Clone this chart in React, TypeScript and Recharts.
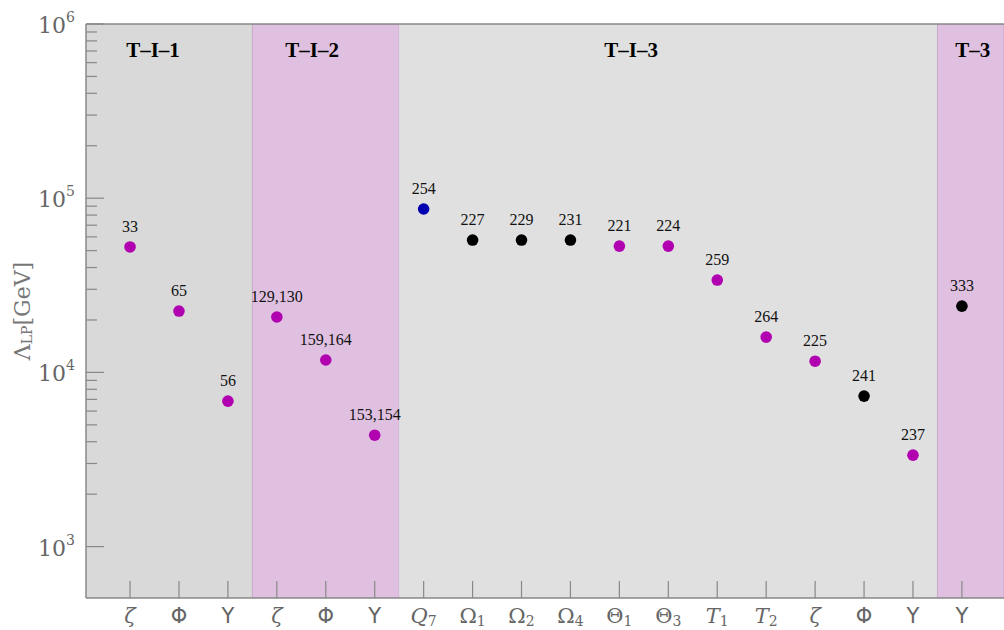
import React from 'react';
import { ComposedChart, Scatter, XAxis, YAxis, ReferenceArea, ReferenceLine, ReferenceDot } from 'recharts';

// Category tick labels (base, subscript, style)
const tickBase = ['ζ', 'Φ', 'Υ', 'ζ', 'Φ', 'Υ', 'Q', 'Ω', 'Ω', 'Ω', 'Θ', 'Θ', 'T', 'T', 'ζ', 'Φ', 'Υ', 'Υ'];
const tickSub = ['', '', '', '', '', '', '7', '1', '2', '4', '1', '3', '1', '2', '', '', '', ''];
const tickKind = ['it', 'sans', 'sans', 'it', 'sans', 'sans', 'it', 'serif', 'serif', 'serif', 'serif', 'serif', 'it', 'it', 'it', 'sans', 'sans', 'sans'];

// Lambda_LP values [GeV]
const values = [52500, 22500, 6840, 20800, 11780, 4360, 86700, 57500, 57500, 57500, 53100, 53100, 33900, 15950, 11600, 7310, 3350, 24000];
const pointLabels = ['33', '65', '56', '129,130', '159,164', '153,154', '254', '227', '229', '231', '221', '224', '259', '264', '225', '241', '237', '333'];
const pointColors = ['#b000b0', '#b000b0', '#b000b0', '#b000b0', '#b000b0', '#b000b0', '#0000b0', '#000000', '#000000', '#000000', '#b000b0', '#b000b0', '#b000b0', '#b000b0', '#b000b0', '#000000', '#b000b0', '#000000'];

// Regions
const regionStart = [-0.9, 2.5, 5.5, 16.5];
const regionEnd = [2.5, 5.5, 16.5, 17.86];
const regionFill = ['#d9d9d9', '#e0c0e0', '#e0e0e0', '#e0c0e0'];
const regionNames = ['T–I–1', 'T–I–2', 'T–I–3', 'T–3'];
const regionNameX = [0.47, 3.72, 10.24, 17.22];

const yMajor = [1000, 10000, 100000, 1000000];
const yMinor = [2, 3, 4, 5, 6, 7, 8, 9].flatMap((m) => [m * 1000, m * 10000, m * 100000]);
const yTicks = [...yMajor, ...yMinor].sort((a, b) => a - b);
const xTicks = tickBase.map((_, i) => i);

const data = values.map((v, i) => ({ x: i, y: v, label: pointLabels[i], color: pointColors[i] }));

const AXIS = '#888888';
const TEXT = '#666666';

const XTick = (props: any) => {
  const { x, y, payload } = props;
  const i = payload.value as number;
  const kind = tickKind[i];
  const family = kind === 'sans' ? 'DejaVu Sans' : 'DejaVu Serif';
  return (
    <g>
      <line x1={x} x2={x} y1={y - 17} y2={y} stroke={AXIS} strokeWidth={1.2} />
      <text x={x} y={y + 25} textAnchor="middle" fill={TEXT} fontSize={21} fontFamily={family} fontStyle={kind === 'it' ? 'italic' : 'normal'}>
        {tickBase[i]}
        {tickSub[i] ? <tspan fontSize={14} dy={3} fontStyle="normal">{tickSub[i]}</tspan> : null}
      </text>
    </g>
  );
};

const YTick = (props: any) => {
  const { x, y, payload } = props;
  const v = payload.value as number;
  const e = Math.round(Math.log10(v));
  const major = Math.abs(Math.log10(v) - e) < 1e-9;
  return (
    <g>
      <line x1={x} x2={x + (major ? 18 : 11)} y1={y} y2={y} stroke={AXIS} strokeWidth={1.2} />
      {major ? (
        <text x={x - 11} y={y + 9} textAnchor="end" fill={TEXT} fontSize={22} fontFamily="DejaVu Serif" fontWeight={300}>
          10<tspan fontSize={14} dy={-11}>{e}</tspan>
        </text>
      ) : null}
    </g>
  );
};

const Dot = (props: any) => {
  const { cx, cy, payload } = props;
  return (
    <g>
      <circle cx={cx} cy={cy} r={5.8} fill={payload.color} />
      <text x={cx} y={cy - 15} textAnchor="middle" fill="#111" fontSize={16} fontFamily="Liberation Serif">
        {payload.label}
      </text>
    </g>
  );
};

const YLabel = (props: any) => {
  const vb = props.viewBox || { x: 0, y: 24, width: 86, height: 574 };
  const cx = vb.x + 22;
  const cy = vb.y + vb.height / 2;
  return (
    <text x={cx} y={cy} transform={`rotate(-90 ${cx} ${cy})`} textAnchor="middle" dominantBaseline="central" fill="#777" fontSize={22} fontFamily="DejaVu Serif">
      Λ<tspan fontSize={14} dy={5}>LP</tspan>
      <tspan dy={-5}>[GeV]</tspan>
    </text>
  );
};

export default function App() {
  return (
    <div style={{ position: 'absolute', left: 0, top: 0, width: 1004, height: 630, background: '#fff' }}>
      <ComposedChart width={1004} height={630} margin={{ top: 24, right: 0, bottom: 0, left: 0 }} data={data}>
        {regionStart.map((s, i) => (
          <ReferenceArea
            key={'r' + i}
            x1={s}
            x2={regionEnd[i]}
            y1={507}
            y2={1000000}
            fill={regionFill[i]}
            fillOpacity={1}
            stroke={i % 2 === 1 ? '#c8a8c8' : 'none'}
            strokeWidth={1}
            ifOverflow="hidden"
          />
        ))}
        <XAxis
          type="number"
          dataKey="x"
          domain={[-0.9, 17.86]}
          allowDataOverflow
          ticks={xTicks}
          interval={0}
          tick={<XTick />}
          tickLine={false}
          tickSize={0}
          tickMargin={0}
          height={32}
          stroke={AXIS}
          axisLine={{ stroke: AXIS, strokeWidth: 1.5 }}
        />
        <YAxis
          type="number"
          dataKey="y"
          scale="log"
          domain={[507, 1000000]}
          allowDataOverflow
          ticks={yTicks}
          interval={0}
          tick={<YTick />}
          tickLine={false}
          tickSize={0}
          tickMargin={0}
          width={86}
          axisLine={{ stroke: AXIS, strokeWidth: 1.5 }}
          label={<YLabel />}
        />
        <ReferenceLine y={1000000} stroke={AXIS} strokeWidth={1.5} ifOverflow="visible" />
        {regionNames.map((n, i) => (
          <ReferenceDot
            key={'t' + i}
            x={regionNameX[i]}
            y={650000}
            r={0}
            ifOverflow="visible"
            shape={(p: any) => (
              <text x={p.cx} y={p.cy} textAnchor="middle" fill="#000" fontSize={21} fontWeight="bold" fontFamily="Liberation Serif">
                {n}
              </text>
            )}
          />
        ))}
        <Scatter data={data} dataKey="y" isAnimationActive={false} shape={<Dot />} />
      </ComposedChart>
    </div>
  );
}
